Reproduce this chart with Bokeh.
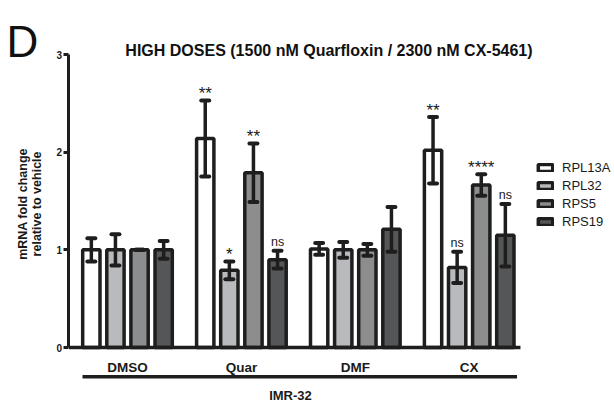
import numpy as np
from bokeh.plotting import figure
from bokeh.models import (Range1d, FixedTicker, Label, Legend, LegendItem, ColumnDataSource)
from bokeh.core.properties import value
from bokeh.embed import file_html
from bokeh.resources import INLINE

# ---------------- data ----------------
treatments = ["DMSO", "Quar", "DMF", "CX"]
genes = ["RPL13A", "RPL32", "RPS5", "RPS19"]
RPL13A = [1.00, 2.14, 1.01, 2.02]
RPL32 = [1.00, 0.79, 1.00, 0.82]
RPS5 = [1.00, 1.79, 1.00, 1.665]
RPS19 = [1.00, 0.90, 1.21, 1.15]
RPL13A_err = [0.12, 0.39, 0.06, 0.34]
RPL32_err = [0.16, 0.09, 0.08, 0.16]
RPS5_err = [0.0, 0.30, 0.06, 0.11]
RPS19_err = [0.09, 0.09, 0.23, 0.32]
RPL13A_sig = ["", "**", "", "**"]
RPL32_sig = ["", "*", "", "ns"]
RPS5_sig = ["", "**", "", "****"]
RPS19_sig = ["", "ns", "", "ns"]
cell_line = "IMR-32"
title_text = "HIGH DOSES (1500 nM Quarfloxin / 2300 nM CX-5461)"
y_label_1 = "mRNA fold change"
y_label_2 = "relative to vehicle"
panel_letter = "D"
y_ticks = [0, 1, 2, 3]

means = [RPL13A, RPL32, RPS5, RPS19]
errs = [RPL13A_err, RPL32_err, RPS5_err, RPS19_err]
sigs = [RPL13A_sig, RPL32_sig, RPS5_sig, RPS19_sig]
fills = ["#ffffff", "#b9babe", "#8c8d8f", "#555657"]
edge = "#1e1e1e"
txt = "#1a1a1a"

FONT = "Liberation Sans"

X0, X1 = -0.115, 5.2757
p = figure(width=614, height=403, output_backend="svg", toolbar_location=None,
           title=None, x_range=Range1d(X0, X1), y_range=Range1d(-0.573, 3.553),
           min_border_left=0, min_border_right=0, min_border_top=0, min_border_bottom=0)
p.xaxis.visible = False
p.xgrid.visible = False
p.ygrid.visible = False
p.outline_line_color = None
p.background_fill_color = "white"
p.border_fill_color = "white"

AXIS_X = 0.4864
yax = p.yaxis[0]
yax.fixed_location = AXIS_X
yax.ticker = FixedTicker(ticks=y_ticks)
yax.bounds = (0, 3)
yax.axis_line_width = 3
yax.axis_line_color = edge
yax.major_tick_line_width = 3
yax.major_tick_line_color = edge
yax.major_tick_out = 5
yax.major_tick_in = 0
yax.minor_tick_line_color = None
yax.major_label_text_font = FONT
yax.major_label_text_font_style = "bold"
yax.major_label_text_font_size = "10px"
yax.major_label_standoff = 2
yax.major_label_text_color = txt

centers = np.arange(1, len(treatments) + 1, dtype=float)
pitch = 0.2116
bw = 0.152
cap = 0.035
legend_items = []
for i, g in enumerate(genes):
    xs = centers + (i - 1.5) * pitch
    m = np.array(means[i])
    e = np.array(errs[i])
    src = ColumnDataSource(dict(x=xs, top=m))
    r = p.vbar(x="x", top="top", bottom=0, width=bw, source=src,
               fill_color=fills[i], line_color=edge, line_width=3.5)
    legend_items.append(LegendItem(label=g, renderers=[r]))
    # error bars
    p.segment(x0=xs, y0=m - e, x1=xs, y1=m + e, line_color=edge, line_width=3.5)
    p.segment(x0=xs - cap, y0=m + e, x1=xs + cap, y1=m + e, line_color=edge,
              line_width=4, line_cap="round")
    p.segment(x0=xs - cap, y0=m - e, x1=xs + cap, y1=m - e, line_color=edge,
              line_width=4, line_cap="round")
    # significance labels: asterisks larger, "ns" smaller
    is_star = np.array([s.startswith("*") for s in sigs[i]])
    sig_src = ColumnDataSource(dict(
        x=xs, y=m + e + np.where(is_star, 0.07, 0.09), t=sigs[i],
        fs=["17px" if s else "12.5px" for s in is_star]))
    p.text(x="x", y="y", text="t", source=sig_src, text_align="center",
           text_baseline="alphabetic", text_font=value(FONT),
           text_font_size="fs", text_color=txt)

# x axis line
p.segment(x0=[AXIS_X], y0=[0], x1=[centers[-1] + 0.45], y1=[0],
          line_color=edge, line_width=3.5)

# category labels
p.text(x=centers, y=[-0.2] * len(centers), text=treatments, text_align="center",
       text_baseline="alphabetic", text_font=value(FONT), text_font_style="bold",
       text_font_size="13.5px", text_color=txt)
# bracket
p.segment(x0=[centers[0] - 0.395], y0=[-0.3], x1=[centers[-1] + 0.42], y1=[-0.3],
          line_color=edge, line_width=3.5)
p.add_layout(Label(x=2.431, y=-0.491, text=cell_line, text_align="center",
                   text_baseline="alphabetic", text_font=FONT, text_font_style="bold",
                   text_font_size="13px", text_color=txt))

# title and panel letter
p.add_layout(Label(x=2.769, y=3.036, text=title_text, text_align="center",
                   text_baseline="alphabetic", text_font=FONT, text_font_style="bold",
                   text_font_size="16px", text_color="#111111"))
p.add_layout(Label(x=-0.062, y=3.133, text=panel_letter, text_align="left",
                   text_baseline="alphabetic", text_font=FONT,
                   text_font_size="44px", text_color="#111111"))

# y axis label (two lines)
p.add_layout(Label(x=0.082, y=1.47, text=y_label_1, angle=np.pi / 2,
                   text_align="center", text_baseline="middle", text_font=FONT,
                   text_font_style="bold", text_font_size="12.5px", text_color=txt))
p.add_layout(Label(x=0.205, y=1.47, text=y_label_2, angle=np.pi / 2,
                   text_align="center", text_baseline="middle", text_font=FONT,
                   text_font_style="bold", text_font_size="12.5px", text_color=txt))

legend = Legend(items=legend_items, location=(536, 174), padding=0, margin=0,
                border_line_color=None, background_fill_alpha=0,
                glyph_width=18, glyph_height=9, label_height=15, spacing=3,
                label_standoff=8, label_text_font=FONT, label_text_font_size="13px",
                label_text_color=txt)
p.add_layout(legend)

open("out.html", "w").write(file_html(p, INLINE))
